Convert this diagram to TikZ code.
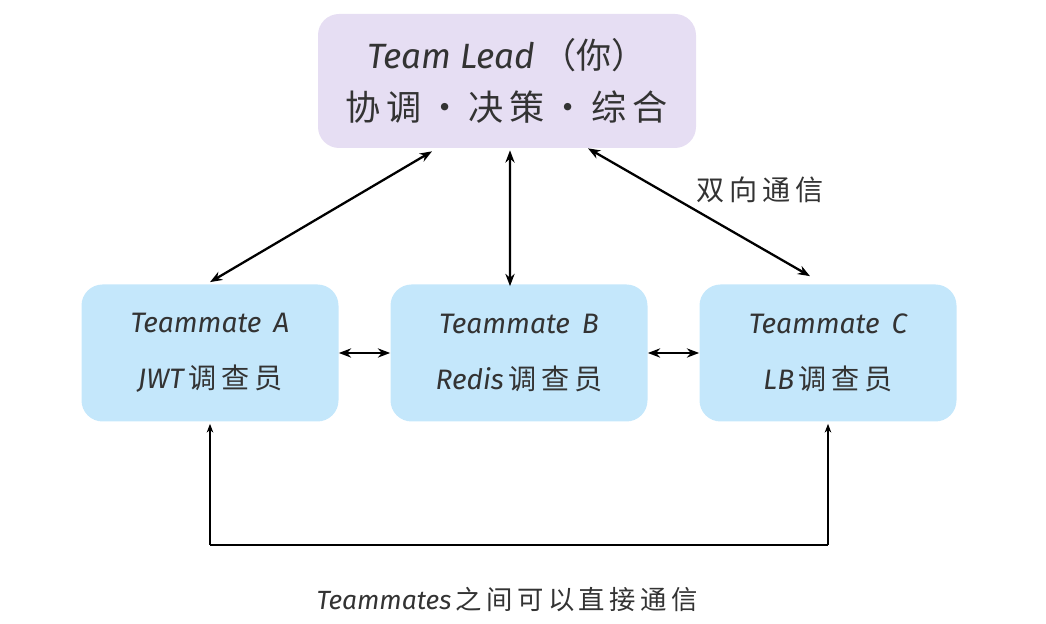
\documentclass[tikz,border=0pt]{standalone}
\usepackage{fontspec}
\setmainfont{Fira Sans}
\newfontfamily\cjk{Noto Sans CJK SC}
\usetikzlibrary{arrows.meta,positioning}
\definecolor{leadfill}{HTML}{E6DEF3}
\definecolor{matefill}{HTML}{C4E7FB}
\definecolor{ink}{HTML}{333333}
\tikzset{
  lead/.style={rounded corners=12pt, fill=leadfill, text=ink, minimum width=7.56cm, minimum height=2.68cm, align=center, font=\fontsize{20}{30}\selectfont},
  mate/.style={rounded corners=12pt, fill=matefill, text=ink, minimum width=5.14cm, minimum height=2.74cm, align=center, font=\fontsize{16}{32}\selectfont},
  both/.style={{Stealth[length=7pt]}-{Stealth[length=7pt]}, line width=1.3pt},
  thin/.style={-{Stealth[length=5pt]}, line width=0.7pt}
}
\begin{document}
\begin{tikzpicture}
  \useasboundingbox (0,0) rectangle (20.92,12.48);
  % boxes
  \node[lead] (lead) at (10.14,10.86) {\itshape Team Lead\,{\cjk（你）}\\{\cjk 协\,调\,·\,决\,策\,·\,综\,合}};
  \node[mate] (a) at (4.2,5.42) {\itshape Teammate\, A\\\itshape JWT\,{\cjk 调\,查\,员}};
  \node[mate] (b) at (10.38,5.42) {\itshape Teammate\, B\\\itshape Redis\,{\cjk 调\,查\,员}};
  \node[mate] (c) at (16.56,5.42) {\itshape Teammate\, C\\\itshape LB\,{\cjk 调\,查\,员}};
  % lead links
  \draw[both] ([xshift=-1.5cm,yshift=-0.06cm]lead.south) -- ([yshift=0.04cm]a.north);
  \draw[both] ([xshift=0.06cm,yshift=-0.04cm]lead.south) -- ([xshift=-0.18cm,yshift=-0.04cm]b.north);
  \draw[both] ([xshift=1.62cm]lead.south) -- ([xshift=-0.36cm,yshift=0.16cm]c.north);
  \node[text=ink, font=\fontsize{16}{20}\selectfont\cjk] (talk) at (15.2,8.68) {双\,向\,通\,信};
  % peer links
  \draw[both] (a) -- (b);
  \draw[both] (b) -- (c);
  \coordinate (pa) at (4.2,1.58);
  \coordinate (pc) at (16.56,1.58);
  \draw[thin] (pa) -- ([yshift=-0.04cm]a.south);
  \draw[thin] (pc) -- ([yshift=-0.04cm]c.south);
  \draw[line width=0.7pt] (pa) -- (pc);
  \node[text=ink, font=\fontsize{15}{20}\selectfont] (note) at (10.14,0.48) {\itshape Teammates\,{\cjk 之\,间\,可\,以\,直\,接\,通\,信}};
\end{tikzpicture}
\end{document}
